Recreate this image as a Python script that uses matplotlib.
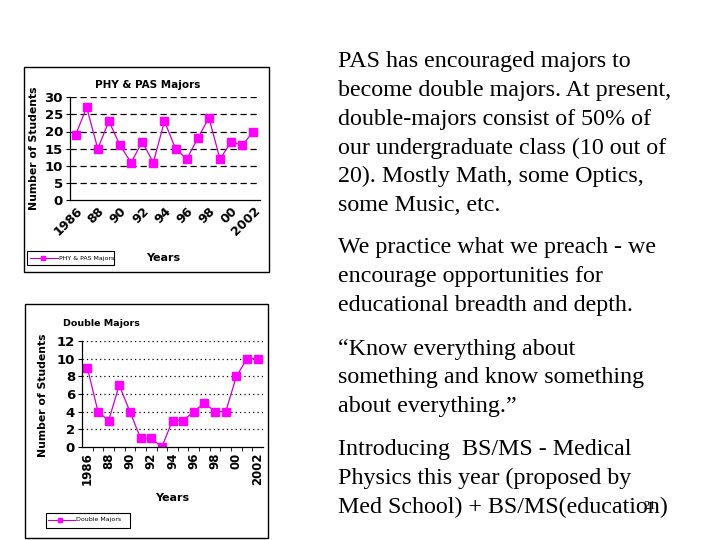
import matplotlib
matplotlib.use("Agg")
import matplotlib.pyplot as plt
from matplotlib.patches import Rectangle
from matplotlib.lines import Line2D

years = list(range(1986, 2003))
phy_pas = [19, 27, 15, 23, 16, 11, 17, 11, 23, 15, 12, 18, 24, 12, 17, 16, 20]
double_majors = [9, 4, 3, 7, 4, 1, 1, 0, 3, 3, 4, 5, 4, 4, 8, 10, 10]
tick_labels = ["1986", "88", "90", "92", "94", "96", "98", "00", "2002"]

para_lines = [
    ["PAS has encouraged majors to", "become double majors. At present,",
     "double-majors consist of 50% of", "our undergraduate class (10 out of",
     "20). Mostly Math, some Optics,", "some Music, etc."],
    ["We practice what we preach - we", "encourage opportunities for",
     "educational breadth and depth."],
    ["\u201cKnow everything about", "something and know something",
     "about everything.\u201d"],
    ["Introducing  BS/MS - Medical", "Physics this year (proposed by",
     "Med School) + BS/MS(education)"],
]
para_tops = [62, 248, 349, 450]

W, H = 720, 540
fig = plt.figure(figsize=(7.2, 5.4), dpi=100)

def fx(x):
    return x / W

def fy(y):
    return 1 - y / H

MAG = "#FF00FF"
LINEC = "#CC00CC"

# chart borders
for (x0, y0, x1, y1) in [(24, 67, 269, 272), (25, 304, 268, 538)]:
    fig.patches.append(Rectangle((fx(x0), fy(y1)), fx(x1 - x0), (y1 - y0) / H,
                                 transform=fig.transFigure, fill=False,
                                 edgecolor="black", lw=1.0))

xs = list(range(len(years)))

# ---- Chart 1
ax1 = fig.add_axes([fx(70), fy(200.5), fx(190), 103.5 / H])
ax1.plot(xs, phy_pas, color=LINEC, lw=0.9, marker="s", markersize=5.5,
         markerfacecolor=MAG, markeredgecolor=MAG)
ax1.set_ylim(0, 30)
ax1.set_xlim(-0.5, 16.6)
ax1.set_yticks(range(0, 31, 5))
ax1.set_yticklabels([str(v) for v in range(0, 31, 5)], fontsize=9.5, fontweight="bold")
ax1.set_xticks(xs[::2])
ax1.set_xticklabels(tick_labels, rotation=45, ha="right", rotation_mode="anchor",
                    fontsize=9, fontweight="bold")
ax1.tick_params(axis="x", length=0, pad=3)
ax1.tick_params(axis="y", length=3, pad=2)
for v in range(5, 31, 5):
    ax1.axhline(v, color="black", lw=0.9, ls=(0, (5, 3)), zorder=0)
for s in ["top", "right"]:
    ax1.spines[s].set_visible(False)
ax1.spines["left"].set_linewidth(0.9)
ax1.spines["bottom"].set_linewidth(0.9)
fig.text(fx(148), fy(85), "PHY & PAS Majors", ha="center", va="center",
         fontsize=7.5, fontweight="bold")
fig.text(fx(34), fy(148), "Number of Students", rotation=90, ha="center",
         va="center", fontsize=7.8, fontweight="bold")
fig.text(fx(163), fy(258), "Years", ha="center", va="center", fontsize=8,
         fontweight="bold")
fig.patches.append(Rectangle((fx(27), fy(265)), fx(87), 14 / H,
                             transform=fig.transFigure, fill=False,
                             edgecolor="black", lw=0.8))
fig.lines.append(Line2D([fx(30), fx(58)], [fy(258), fy(258)], transform=fig.transFigure,
                        color=LINEC, lw=0.8, marker=None))
fig.lines.append(Line2D([fx(43)], [fy(258)], transform=fig.transFigure,
                        color=MAG, marker="s", markersize=3.5, lw=0))
fig.text(fx(59), fy(258), "PHY & PAS Majors", ha="left", va="center", fontsize=4.5)

# ---- Chart 2
ax2 = fig.add_axes([fx(82), fy(447), fx(181), 106 / H])
ax2.plot(xs, double_majors, color=LINEC, lw=0.9, marker="s", markersize=5.5,
         markerfacecolor=MAG, markeredgecolor=MAG)
ax2.set_ylim(0, 12)
ax2.set_xlim(-0.5, 16.5)
ax2.set_yticks(range(0, 13, 2))
ax2.set_yticklabels([str(v) for v in range(0, 13, 2)], fontsize=9.5, fontweight="bold")
ax2.set_xticks(xs[::2])
ax2.set_xticklabels(tick_labels, rotation=90, ha="center", va="top",
                    fontsize=8.5, fontweight="bold")
ax2.set_xticks([x + 0.5 for x in xs[:-1]], minor=True)
ax2.tick_params(axis="x", which="major", length=0, pad=4)
ax2.tick_params(axis="x", which="minor", length=3)
ax2.tick_params(axis="y", length=3, pad=2)
for v in range(2, 13, 2):
    ax2.axhline(v, color="black", lw=0.9, ls=(0, (1, 2.5)), zorder=0)
for s in ["top", "right"]:
    ax2.spines[s].set_visible(False)
ax2.spines["left"].set_linewidth(0.9)
ax2.spines["bottom"].set_linewidth(0.9)
fig.text(fx(63), fy(323), "Double Majors", ha="left", va="center",
         fontsize=6.8, fontweight="bold")
fig.text(fx(43), fy(395), "Number of Students", rotation=90, ha="center",
         va="center", fontsize=7.8, fontweight="bold")
fig.text(fx(172), fy(498), "Years", ha="center", va="center", fontsize=8,
         fontweight="bold")
fig.patches.append(Rectangle((fx(46), fy(528)), fx(84), 15 / H,
                             transform=fig.transFigure, fill=False,
                             edgecolor="black", lw=0.8))
fig.lines.append(Line2D([fx(48), fx(75)], [fy(520), fy(520)], transform=fig.transFigure,
                        color=LINEC, lw=0.8))
fig.lines.append(Line2D([fx(60)], [fy(520)], transform=fig.transFigure,
                        color=MAG, marker="s", markersize=3.5, lw=0))
fig.text(fx(76), fy(520), "Double Majors", ha="left", va="center", fontsize=4.5)

# ---- Right text
for lines, top in zip(para_lines, para_tops):
    for i, line in enumerate(lines):
        fig.text(fx(338), fy(top + i * 28.7), line, ha="left", va="center",
                 fontsize=17.3, family="Liberation Serif")
fig.text(fx(650), fy(506), "21", ha="center", va="center", fontsize=9,
         family="Liberation Serif")

fig.savefig("out.png", dpi=100)
